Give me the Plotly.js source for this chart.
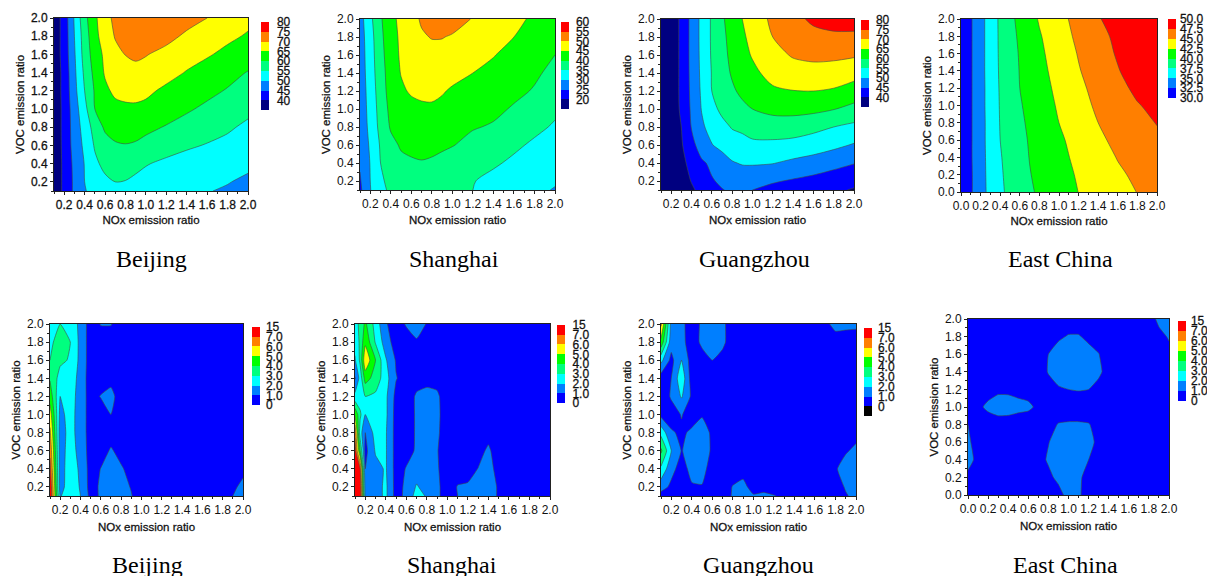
<!DOCTYPE html>
<html><head><meta charset="utf-8">
<script src="https://cdn.plot.ly/plotly-3.0.1.min.js"></script>
<style>html,body{margin:0;padding:0;background:#fff}#chart{width:1207px;height:576px}
.xtick text,.ytick text,.cbaxis text,text[class$="title"]{stroke:#111;stroke-width:.28px}
</style>
</head><body><div id="chart"></div>
<script>
// ---------- data: rows run from the lowest VOC ratio to the highest ----------
const xCity = [0.1,0.2,0.3,0.4,0.5,0.6,0.7,0.8,0.9,1.0,1.2,1.4,1.6,1.8,2.0];
const yCity = [0.1,0.2,0.4,0.6,0.8,1.0,1.2,1.4,1.6,1.8,2.0];
const xEast = [0,0.2,0.3,0.4,0.5,0.6,0.7,0.8,1.0,1.2,1.4,1.6,1.8,2.0];
const yEast = [0,0.2,0.4,0.6,0.8,1.0,1.2,1.4,1.6,1.8,2.0];

const beijingO3 = [
[37,41,46,49.7,51.5,52.8,53.5,53.5,52.9,52.4,51.4,50.7,50.2,49.5,48.3],
[37,41,46,50,52.5,54,55,54.8,54,53.3,52.2,51.3,50.6,50.2,49.2],
[37,41,46.3,50.2,54,56.3,57.3,57.3,56.3,55.3,54,53,52.1,51.2,50.9],
[37,41.2,47,51,55.5,58,59.5,59.8,59.5,58.7,57,55.7,54.7,53.7,52.6],
[37,41.3,47.3,52,57,60.8,61.8,62,61.7,61,59.7,58.5,57,55.7,54],
[37,41.3,47.7,53.5,60,62.5,63.6,64.2,64.2,63.8,62,60.5,59.2,57.7,56.2],
[37,41.5,48.5,55,60.5,64,66,66.3,66.5,66,64,62.5,61,59.7,58.2],
[37,41.5,49,56,61.5,65.5,67.5,68.5,69,68.5,66.7,64.7,63,61.3,59.8],
[37,42,49.5,57,62.5,66,68.8,70.1,70.6,70.2,68.8,67,65.5,63.8,62.1],
[37,42,50,57.5,63.5,67.5,70.3,71.5,72.2,72.3,71.2,69.3,67.5,66,64.5],
[37,42,50.5,58.5,64,68.5,71,73,74,74,73,71.5,70,68,66.3]];

const shanghaiO3 = [
[24,29.8,34,35.7,36.3,36.8,37,36.8,36.4,35.9,35,33.4,32.2,31,29.7],
[24.5,30,34.3,36.2,37,37.6,37.8,37.5,37,36.4,35.2,33.8,32.7,31.5,30.5],
[25.5,30.2,35,37.7,39,39.6,39.8,39.5,38.8,38,36.8,35.6,34.2,33,31.7],
[26.2,30.7,35.5,38.7,40.5,40.8,41,41,40.7,40.2,38.7,37.3,35.8,34.3,32.9],
[26.8,31.3,36.5,40.5,41.3,41.8,42,42.2,41.9,41.2,40.3,39.6,37.6,36,34.5],
[27,31.7,37,41.3,42.6,43.5,44.2,44.3,43.8,43.2,42,40.9,39.6,37.7,35.8],
[27.2,32,37.6,42,44.2,45.6,46,46.1,45.4,44.4,43.2,42,40.9,39.7,38.1],
[27.3,32.5,38,42.3,45.2,46.5,47.3,47.5,47,46.5,45,43.8,42.4,40.6,39],
[27.5,32.7,38.5,42.6,45.7,47,48.3,48.6,48.3,47.7,46.3,45.2,43.5,42,40],
[27.7,33,38.9,43,45.9,47.5,49.5,50.2,50.2,49.5,47.9,46.4,45,43.2,41.5],
[28,33.8,39.4,43.5,46.3,48.5,50.5,52,52.8,52.3,49.7,48,46.2,44.2,42.5]];

const guangzhouO3 = [
[35.5,36,37.5,39.3,41.3,43,44.8,45.6,45.8,45,43.6,42.6,41.8,40.8,39.6],
[35.5,36,37.8,40.2,42.7,44.6,45.8,46.6,46.8,46.5,45.5,44.5,43.5,42.5,41.3],
[35.5,36.5,38.5,41.7,44.2,46,47.5,49.6,50.4,50.5,50.2,49,48,46.5,45.2],
[35.5,36.8,39.5,43.3,47.5,49.8,51.5,52.9,53.6,54,53.9,53.4,52.4,51.2,49.6],
[35.5,37,40,45.2,49.2,51.7,53.7,55.3,55.8,57,57.6,57.5,56.4,55,53.9],
[35.5,37,40.8,45.7,50.2,53.7,56,57.6,58.9,60,61.3,61.5,61.2,60.2,58.4],
[35.5,37,41,46,50.7,55,56.8,59.3,61,62.2,64.2,64.9,65,64.5,63.2],
[35.5,37,41,46.2,51,55.2,58,60.5,62.3,63.8,66.8,67.6,68.1,67.7,66.5],
[35.5,37,41,46.3,51.2,55.5,58.6,61.1,63.4,65.4,68.2,70.5,71.2,71.1,70.6],
[35.5,37,41,46.3,51.3,55.6,58.8,61.7,64.2,66.4,70,72.3,73.4,73.8,73.6],
[35.5,37,41,46.3,51.3,55.6,59.3,62.2,65,67.2,71,73.5,76,77.5,78]];

const eastChinaO3 = [
[30.3,34.1,35.7,37.08,38.06,38.87,39.68,40.33,41.43,42.53,43.38,44.23,45.05,45.6],
[30.3,34.1,35.8,37.2,38.19,39.05,39.9,40.51,41.65,42.74,43.7,44.66,45.4,46],
[30.3,34.2,35.8,37.34,38.3,39.2,40.06,40.67,41.89,43.03,44.1,45.1,45.8,46.5],
[30.3,34.2,35.9,37.5,38.43,39.35,40.19,40.83,42.12,43.35,44.57,45.54,46.4,47],
[30.3,34.2,35.9,37.6,38.58,39.56,40.39,41.09,42.5,43.75,45,45.85,46.7,47.6],
[30.3,34.2,36,37.66,38.72,39.79,40.59,41.32,42.78,44.17,45.39,46.37,47.35,48.1],
[30.3,34.2,36,37.73,38.86,40,40.78,41.56,43.07,44.5,45.72,46.83,48,48.6],
[30.3,34.2,36.1,37.8,38.95,40.09,40.95,41.8,43.38,44.85,46.13,47.37,48.5,49],
[30.3,34.2,36.1,37.86,39.05,40.19,41.1,42.04,43.64,45.14,46.49,47.73,48.6,49.3],
[30.3,34.2,36.1,37.9,39.2,40.38,41.35,42.3,43.95,45.49,46.88,47.95,48.9,49.6],
[30.3,34.2,36.1,37.94,39.4,40.63,41.67,42.7,44.27,45.8,47.28,48.7,49.4,49.9]];

const xBeijingDiff = xCity;
const beijingDiff = [
[14.5,1.9,2.7,2.0,0.7,1.1,1.4,1.3,1.05,0.5,0.5,0.5,0.5,0.5,1.5],
[14.5,1.5,2.7,1.9,0.6,1.15,1.4,1.3,0.95,0.5,0.5,0.5,0.5,0.5,1.2],
[9.4,1.5,2.6,1.8,0.6,1.02,1.3,1.1,0.7,0.5,0.5,0.5,0.5,0.5,0.8],
[6.8,1.5,2.5,1.6,0.6,0.6,1.1,0.7,0.5,0.5,0.5,0.5,0.5,0.5,0.5],
[6.2,1.5,2.4,1.5,0.6,0.5,0.6,0.5,0.5,0.5,0.5,0.5,0.5,0.5,0.5],
[5.5,1.7,2.4,1.5,0.6,0.5,1.0,0.5,0.5,0.5,0.5,0.5,0.5,0.5,0.5],
[4.6,2.0,2.5,1.5,0.6,1.05,1.3,0.5,0.5,0.5,0.5,0.5,0.5,0.5,0.5],
[3.9,2.6,2.6,1.6,0.5,0.5,0.7,0.5,0.5,0.5,0.5,0.5,0.5,0.5,0.5],
[3.0,3.2,2.9,1.7,0.5,0.5,0.5,0.5,0.5,0.5,0.5,0.5,0.5,0.5,0.5],
[2.6,3.8,3.0,1.7,0.5,0.5,0.5,0.5,0.5,0.5,0.5,0.5,0.5,0.5,0.5],
[2.6,3.0,2.7,1.7,0.5,1.05,1.05,0.5,0.5,0.5,0.5,0.5,0.5,0.5,0.5]];

const xShanghaiDiff = [0.1,0.15,0.2,0.3,0.4,0.5,0.6,0.7,0.8,0.9,1.0,1.1,1.2,1.3,1.4,1.5,1.6,1.8,2.0];
const shanghaiDiff = [
[14.5,14.5,1.7,1.6,2.2,0.6,1.25,2.4,1.9,1.2,0.5,1.0,1.2,1.3,1.4,0.9,0.5,0.5,0.5],
[14.5,13,1.5,1.6,2.2,0.6,1.2,2.1,1.6,1.2,0.5,1.05,1.1,1.3,1.4,0.9,0.5,0.5,0.5],
[14.5,7.5,1.0,1.7,2.1,0.6,1.05,1.5,1.4,1.1,0.5,0.6,0.7,1.02,1.3,0.7,0.5,0.5,0.5],
[11,4,0.7,2.1,2.1,0.6,0.7,1.1,1.3,1.05,0.5,0.5,0.5,0.7,1.15,0.5,0.5,0.5,0.5],
[6.8,2.5,1.0,2.4,2.1,0.6,0.6,1.1,1.3,1.15,0.5,0.5,0.5,0.5,0.7,0.5,0.5,0.5,0.5],
[4.9,3.2,2.0,2.6,2.2,0.6,0.6,1.1,1.4,1.2,0.5,0.5,0.5,0.5,0.5,0.5,0.5,0.5,0.5],
[2.3,2.4,3.0,2.8,2.2,0.7,0.6,1.1,1.3,1.15,0.5,0.5,0.5,0.5,0.5,0.5,0.5,0.5,0.5],
[0.9,2.4,4.4,3.6,2.4,1.05,0.6,0.7,0.7,0.7,0.5,0.5,0.5,0.5,0.5,0.5,0.5,0.5,0.5],
[1.9,3.2,5.8,4.0,2.1,0.9,0.5,0.5,0.5,0.5,0.5,0.5,0.5,0.5,0.5,0.5,0.5,0.5,0.5],
[2.3,3.2,4.8,2.9,1.5,0.5,0.5,0.9,0.5,0.5,0.5,0.5,0.5,0.5,0.5,0.5,0.5,0.5,0.5],
[2.5,3.3,4.2,2.6,1.1,0.5,1.1,1.4,0.95,0.5,0.5,0.5,0.5,0.5,0.5,0.5,0.5,0.5,0.5]];

const xGuangzhouDiff = [0.1,0.2,0.3,0.4,0.5,0.6,0.7,0.8,0.9,1.0,1.1,1.2,1.3,1.4,1.6,1.8,1.9,2.0];
const guangzhouDiff = [
[0.6,0.5,0.5,0.5,0.5,0.5,0.5,1.1,1.25,1.05,1.1,1.05,0.8,0.5,0.5,0.5,0.9,1.3],
[1.4,0.8,0.5,0.9,0.95,0.5,0.5,1.05,1.15,0.8,0.85,0.6,0.5,0.5,0.5,0.5,1.1,1.4],
[2.8,1.3,0.6,1.3,1.3,0.6,0.5,0.5,0.8,0.5,0.5,0.5,0.5,0.5,0.5,0.9,1.4,1.5],
[4.2,2.0,0.95,1.4,1.5,0.85,0.5,0.5,0.5,0.5,0.5,0.5,0.5,0.5,0.5,0.5,0.9,1.2],
[2.7,1.1,0.85,1.15,1.5,0.8,0.5,0.5,0.5,0.5,0.5,0.5,0.5,0.5,0.5,0.5,0.5,0.7],
[0.7,0.6,1.05,0.6,0.9,0.5,0.5,0.5,0.5,0.5,0.5,0.5,0.5,0.5,0.5,0.5,0.5,0.5],
[0.4,1.1,2.1,0.8,0.5,0.5,0.5,0.5,0.5,0.5,0.5,0.5,0.5,0.5,0.5,0.5,0.5,0.5],
[0.5,1.0,2.7,0.5,0.5,0.5,0.5,0.5,0.5,0.5,0.5,0.5,0.5,0.5,0.5,0.5,0.5,0.5],
[2.3,0.7,2.0,0.5,0.6,1.0,0.7,0.5,0.5,0.5,0.5,0.5,0.5,0.5,0.5,0.5,0.5,0.5],
[4.7,1.4,1.3,0.5,1.2,1.5,1.2,0.5,0.5,0.5,0.5,0.5,0.5,0.5,0.5,0.7,0.6,0.5],
[6.2,1.6,1.3,0.4,1.2,1.4,1.2,0.5,0.5,0.5,0.5,0.5,0.5,0.5,0.5,1.2,1.2,1.2]];

const xEastDiff = [0,0.1,0.2,0.3,0.4,0.5,0.6,0.7,0.8,0.9,1.0,1.1,1.2,1.3,1.4,1.8,1.9,2.0];
const eastChinaDiff = [
[0.5,0.5,0.5,0.5,0.5,0.5,0.5,0.5,0.5,0.7,1.3,1.1,0.7,0.5,0.5,0.5,0.5,0.5],
[0.6,0.5,0.5,0.5,0.5,0.5,0.5,0.5,0.8,1.2,1.3,1.1,0.8,0.5,0.5,0.5,0.5,0.5],
[1.6,0.5,0.5,0.5,0.5,0.5,0.5,0.7,1.1,1.3,1.4,1.3,1.0,0.5,0.5,0.5,0.5,0.5],
[1.2,0.5,0.5,0.5,0.5,0.5,0.5,0.6,0.97,1.3,1.4,1.4,1.25,0.8,0.5,0.5,0.5,0.5],
[1.0,0.5,0.6,0.5,0.5,0.5,0.5,0.5,0.7,1.05,1.1,1.1,1.05,0.7,0.5,0.5,0.5,0.5],
[0.5,0.85,1.15,1.5,1.45,1.25,1.15,0.85,0.5,0.5,0.5,0.5,0.5,0.5,0.5,0.5,0.5,0.5],
[0.5,0.5,0.72,0.79,0.8,0.75,0.7,0.5,0.7,0.9,1.0,1.05,1.0,0.75,0.5,0.5,0.5,0.5],
[0.5,0.5,0.5,0.5,0.5,0.5,0.5,0.6,1.05,1.4,1.6,1.6,1.5,1.15,0.7,0.5,0.5,0.5],
[0.5,0.5,0.5,0.5,0.5,0.5,0.5,0.6,1.0,1.4,1.6,1.5,1.3,1.03,0.5,0.5,0.5,0.7],
[0.5,0.5,0.5,0.5,0.5,0.5,0.5,0.5,0.65,0.85,1.07,1.07,0.8,0.6,0.5,0.5,0.7,1.1],
[0.5,0.5,0.5,0.5,0.5,0.5,0.5,0.5,0.5,0.5,0.5,0.5,0.5,0.5,0.5,0.5,1.25,1.5]];

const cityNames = ["Beijing","Shanghai","Guangzhou","East China"];
const diffLevels = [0,1,2,3,4,5,6,7,15];
const diffLabels = ["0","1.0","2.0","3.0","4.0","5.0","6.0","7.0","15"];

// ---------- styles and placement ----------
const W = 1207, H = 576;
const band = ["#0000ff","#007fff","#00ffff","#00ff7f","#00ff00","#ffff00","#ff7f00","#ff0000"];
const TEXT = "#111";
const SANS = '"Liberation Sans", Arial, sans-serif';
const SERIF = '"Liberation Serif", "Times New Roman", serif';

// the 7..15 legend step is drawn as one equal band
const squeeze = v => v <= 7 ? v : 7 + (v - 7) / 8;

const panels = [
 {name:0, x:xCity, y:yCity, z:beijingO3, plot:[54,248,18,191], bar:[261,22,9.8,6], start:35,end:80,size:5, low:["#000080"], from:40, digits:0, range:[0.1,2], cx:151, cy:259, off:4},
 {name:1, x:xCity, y:yCity, z:shanghaiO3, plot:[360,555,19,190], bar:[561,22,9.7,5], start:15,end:60,size:5, low:["#000080"], from:20, digits:0, range:[0.1,2], cx:454, cy:259, off:5},
 {name:2, x:xCity, y:yCity, z:guangzhouO3, plot:[661,854,19,190], bar:[861,20,9.7,5], start:35,end:80,size:5, low:["#000080"], from:40, digits:0, range:[0.1,2], cx:754, cy:259, off:5},
 {name:3, x:xEast, y:yEast, z:eastChinaO3, plot:[961,1157,19,192], bar:[1168,19,9.85,2], start:30,end:50,size:2.5, low:[], from:30, digits:1, range:[0,2], cx:1060, cy:259, off:4},
 {name:0, x:xBeijingDiff, y:yCity, z:beijingDiff, diff:true, plot:[50,243,324,496], bar:[252,327,9.75,4], start:0,end:8,size:1, low:[], range:[0.1,2], cx:147, cy:565, off:6},
 {name:1, x:xShanghaiDiff, y:yCity, z:shanghaiDiff, diff:true, plot:[355,550,324,496], bar:[557,325,9.8,5.5], start:0,end:8,size:1, low:[], range:[0.1,2], cx:452, cy:565, off:6},
 {name:2, x:xGuangzhouDiff, y:yCity, z:guangzhouDiff, diff:true, plot:[661,856,324,496], bar:[864,328,9.75,4], start:-1,end:8,size:1, low:["#000000"], range:[0.1,2], cx:758, cy:565, off:6},
 {name:3, x:xEastDiff, y:yEast, z:eastChinaDiff, diff:true, plot:[968,1169,319,495], bar:[1178,321,10,3], start:0,end:8,size:1, low:[], range:[0,2], cx:1065, cy:565, off:6}
];

const traces = [], annotations = [];
const layout = {width:W, height:H, paper_bgcolor:"#fff", plot_bgcolor:"#fff", showlegend:false,
  margin:{l:0,r:0,t:0,b:0,autoexpand:false}, font:{family:SANS,color:TEXT}, annotations};

panels.forEach((p,i) => {
  const n = i + 1, xa = "x"+n, ya = "y"+n;
  const z = p.diff ? p.z.map(r => r.map(squeeze)) : p.z;
  const colors = ["#ffffff", ...p.low, ...band, "#ffffff"];
  const last = colors.length - 1;
  const colorscale = colors.map((c,k) => [k/last, c]);
  const contours = {start:p.start, end:p.end, size:p.size};
  let tickvals, ticktext;
  if (p.diff) {
    tickvals = diffLevels.map(squeeze);
    ticktext = diffLabels;
  } else {
    tickvals = []; ticktext = [];
    for (let v = p.from; v <= p.end + 1e-9; v += p.size) { tickvals.push(v); ticktext.push(v.toFixed(p.digits)); }
  }
  const bandCount = (p.end - p.start) / p.size + 1;   // includes the two hidden half bands
  const [bl,bt,bh,gap] = p.bar;
  traces.push({type:"contour", x:p.x, y:p.y, z, xaxis:xa, yaxis:ya, autocontour:false, hoverinfo:"skip",
    contours:Object.assign({coloring:"fill", showlines:false}, contours),
    line:{width:0, smoothing:p.diff ? 0.4 : 0.85}, colorscale, showscale:true,
    colorbar:{x:bl/W, xanchor:"left", xpad:0, ypad:0, y:1-(bt-bh/2)/H, yanchor:"top",
      lenmode:"pixels", len:bandCount*bh, thicknessmode:"pixels", thickness:7.5,
      outlinewidth:0, bgcolor:"rgba(0,0,0,0)", tickmode:"array", tickvals, ticktext,
      ticks:"outside", ticklen:gap, tickcolor:"rgba(0,0,0,0)", tickfont:{family:SANS,size:12,color:TEXT}}});
  traces.push({type:"contour", x:p.x, y:p.y, z, xaxis:xa, yaxis:ya, autocontour:false, hoverinfo:"skip",
    contours:Object.assign({coloring:"none", showlines:true}, contours),
    line:{color:"#3f4d45", width:0.6, smoothing:p.diff ? 0.4 : 0.85}, showscale:false});

  const [l,r,t,b] = p.plot;
  const common = {range:p.range, tick0:0, dtick:0.2, tickformat:".1f", ticks:"outside", ticklen:3, tickwidth:1,
    tickcolor:"#222", showline:true, linecolor:"#222", linewidth:1, mirror:true, showgrid:false, zeroline:false,
    tickfont:{family:SANS,size:12,color:TEXT},
    minor:{dtick:0.1, tick0:0, ticks:"outside", ticklen:2, tickwidth:1, tickcolor:"#222", showgrid:false}};
  layout["xaxis"+n] = Object.assign({}, common, {anchor:ya, domain:[l/W, r/W],
    title:{text:"NOx emission ratio", standoff:p.off, font:{family:SANS,size:11.5,color:TEXT}}});
  layout["yaxis"+n] = Object.assign({}, common, {anchor:xa, domain:[1-b/H, 1-t/H],
    title:{text:"VOC emission ratio", standoff:3, font:{family:SANS,size:11.5,color:TEXT}}});
  annotations.push({xref:"paper", yref:"paper", x:p.cx/W, y:1-p.cy/H, xanchor:"center", yanchor:"middle",
    text:cityNames[p.name], showarrow:false, font:{family:SERIF,size:24,color:"#000"}});
});

Plotly.newPlot("chart", traces, layout, {displayModeBar:false, staticPlot:true});
</script></body></html>
